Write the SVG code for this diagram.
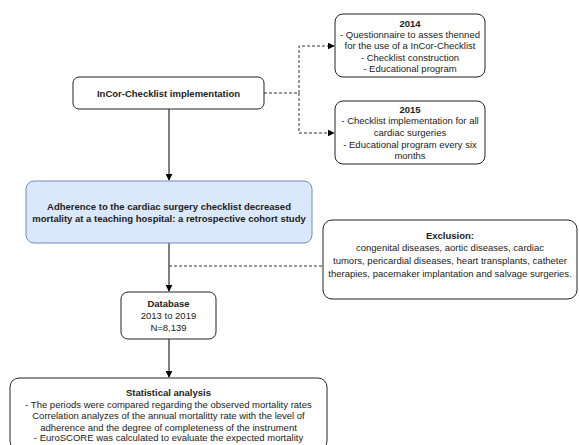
<svg xmlns="http://www.w3.org/2000/svg" width="579" height="445" viewBox="0 0 579 445">
<defs>
<marker id="arr" viewBox="0 0 10 10" refX="9" refY="5" markerWidth="7" markerHeight="7" markerUnits="userSpaceOnUse" orient="auto">
<path d="M0,0 L10,5 L0,10 z" fill="#000"/>
</marker>
</defs>
<style>
.box{fill:#fff;stroke:#222;stroke-width:1}
.blue{fill:#dae8fc;stroke:#6c8ebf;stroke-width:1}
text{font-family:"Liberation Sans",Arial,sans-serif;font-size:9.5px;fill:#222;text-anchor:middle}
.b{font-weight:bold}
.solid{stroke:#000;stroke-width:1;fill:none}
.dash{stroke:#333;stroke-width:1;fill:none;stroke-dasharray:3 2}
</style>
<rect width="579" height="445" fill="#fff"/>
<g id="connectors">
<line class="solid" x1="169" y1="109" x2="169" y2="180" marker-end="url(#arr)"/>
<line class="solid" x1="169" y1="243" x2="169" y2="291" marker-end="url(#arr)"/>
<line class="solid" x1="169" y1="339" x2="169" y2="377" marker-end="url(#arr)"/>
<path class="dash" d="M264,93 H299 V46 H334" marker-end="url(#arr)"/>
<path class="dash" d="M299,93 V133 H334" marker-end="url(#arr)"/>
<line class="dash" x1="169" y1="266" x2="323" y2="266"/>
</g>
<g id="incor">
<rect class="box" x="73" y="77" width="191" height="32" rx="6"/>
<text class="b" x="168.5" y="96.5">InCor-Checklist implementation</text>
</g>
<g id="y2014">
<rect class="box" x="335" y="14" width="150" height="63" rx="8"/>
<text class="b" x="410" y="26.5">2014</text>
<text x="410" y="38">- Questionnaire to asses thenned</text>
<text x="410" y="49">for the use of a InCor-Checklist</text>
<text x="410" y="60.5">- Checklist construction</text>
<text x="410" y="72">- Educational program</text>
</g>
<g id="y2015">
<rect class="box" x="335" y="101" width="150" height="63" rx="8"/>
<text class="b" x="410" y="112.5">2015</text>
<text x="410" y="124">- Checklist implementation for all</text>
<text x="410" y="135.5">cardiac surgeries</text>
<text x="410" y="148">- Educational program every six</text>
<text x="410" y="158.5">months</text>
</g>
<g id="study">
<rect class="blue" x="26" y="181" width="286" height="62" rx="8"/>
<text class="b" x="169" y="210">Adherence to the cardiac surgery checklist decreased</text>
<text class="b" x="169" y="222">mortality at a teaching hospital: a retrospective cohort study</text>
</g>
<g id="exclusion">
<rect class="box" x="323" y="220" width="254" height="79" rx="9"/>
<text class="b" x="450" y="238.5">Exclusion:</text>
<text x="450" y="250.5">congenital diseases, aortic diseases, cardiac</text>
<text x="450" y="263.5">tumors, pericardial diseases, heart transplants, catheter</text>
<text x="450" y="276.5">therapies, pacemaker implantation and salvage surgeries.</text>
</g>
<g id="database">
<rect class="box" x="121" y="292" width="95" height="47" rx="7"/>
<text class="b" x="168.5" y="306.5">Database</text>
<text x="168.5" y="318.5">2013 to 2019</text>
<text x="168.5" y="330.5">N=8,139</text>
</g>
<g id="stats">
<rect class="box" x="10" y="378" width="317" height="72" rx="9"/>
<text class="b" x="168.5" y="395.5">Statistical analysis</text>
<text x="168.5" y="407.5">- The periods were compared regarding the observed mortality rates</text>
<text x="168.5" y="419">Correlation analyzes of the annual mortalitty rate with the level of</text>
<text x="168.5" y="430.5">adherence and the degree of completeness of the instrument</text>
<text x="168.5" y="441">- EuroSCORE was calculated to evaluate the expected mortality</text>
</g>
</svg>
